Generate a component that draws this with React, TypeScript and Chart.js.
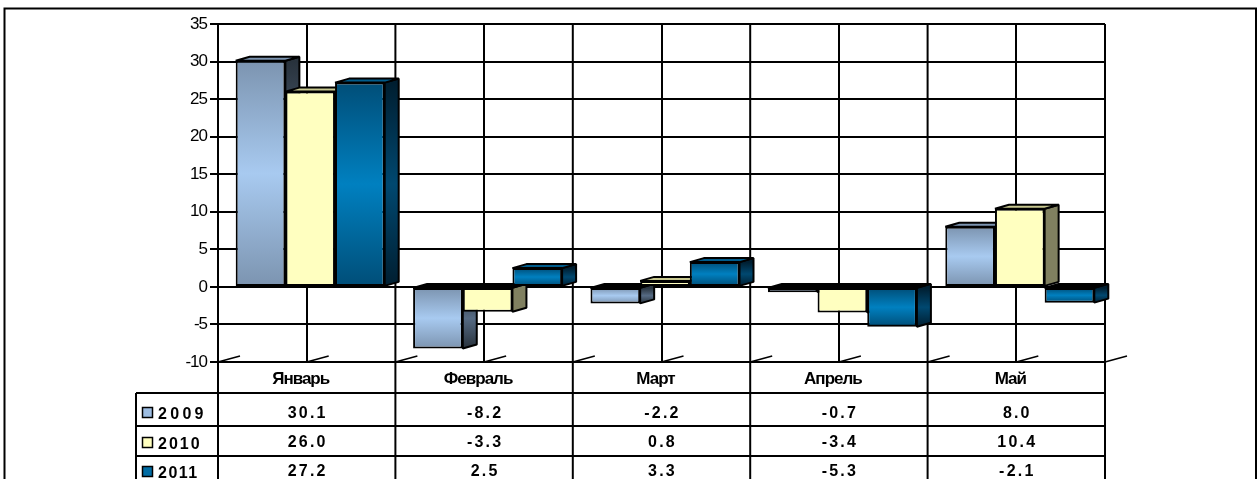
import React, { useEffect, useRef } from "react";
import { Chart, registerables } from "chart.js";

Chart.register(...registerables);

const categories = ["Январь", "Февраль", "Март", "Апрель", "Май"];
const seriesNames = ["2009", "2010", "2011"];
const values2009 = [30.1, -8.2, -2.2, -0.7, 8.0];
const values2010 = [26.0, -3.3, 0.8, -3.4, 10.4];
const values2011 = [27.2, 2.5, 3.3, -5.3, -2.1];
const allValues = [values2009, values2010, values2011];

const frontEdge = ["#7c94b0", "#ffffc0", "#004e78"];
const frontMid = ["#a8caf0", "#ffffc0", "#0080c0"];
const sideEdge = ["#28323c", "#808060", "#001e30"];
const sideMid = ["#566b84", "#808060", "#004870"];
const topFace = ["#7c94b0", "#c8c890", "#005c8c"];
const swatch = ["#9dbde2", "#ffffc0", "#006ca4"];
const legendSpacing = ["3.3px", "2px", "1.5px"];

const DX = 14;
const DY = 4;
const SHIFT = 3.5;
const FONT = '"Liberation Sans", Arial, sans-serif';

function grad(ctx: CanvasRenderingContext2D, y0: number, y1: number, edge: string, mid: string) {
  const g = ctx.createLinearGradient(0, y0, 0, y1);
  g.addColorStop(0, edge);
  g.addColorStop(0.5, mid);
  g.addColorStop(1, edge);
  return g;
}

const threeD = {
  id: "threeD",
  beforeDraw(chart: any) {
    chart.ctx.letterSpacing = "-1px";
  },
  afterDatasetsUpdate(chart: any) {
    chart.data.datasets.forEach((_: any, i: number) => {
      chart.getDatasetMeta(i).data.forEach((el: any) => {
        el.x += SHIFT;
      });
    });
  },
  beforeDatasetsDraw(chart: any) {
    const { ctx, scales, chartArea } = chart;
    const x = scales.x;
    ctx.save();
    ctx.strokeStyle = "#000";
    ctx.lineWidth = 2;
    const step = x.getPixelForValue(1) - x.getPixelForValue(0);
    // category boundaries
    for (let i = 0; i <= categories.length; i++) {
      const px = x.getPixelForValue(0) + (i - 0.5) * step;
      ctx.beginPath();
      ctx.moveTo(px, chartArea.top);
      ctx.lineTo(px, chartArea.bottom);
      ctx.stroke();
    }
    // floor ticks
    ctx.lineWidth = 1.5;
    for (let i = 0; i <= categories.length * 2; i++) {
      const px = x.getPixelForValue(0) + (i / 2 - 0.5) * step;
      ctx.beginPath();
      ctx.moveTo(px, chartArea.bottom);
      ctx.lineTo(px + 22, chartArea.bottom - 6);
      ctx.stroke();
    }
    // side and top faces
    ctx.lineWidth = 2;
    ctx.lineJoin = "bevel";
    chart.data.datasets.forEach((_: any, i: number) => {
      chart.getDatasetMeta(i).data.forEach((el: any, k: number) => {
        const v = allValues[i][k];
        const half = el.width / 2;
        const l = el.x - half;
        const r = el.x + half;
        const t = Math.min(el.y, el.base);
        const b = Math.max(el.y, el.base);
        ctx.beginPath();
        ctx.moveTo(r, t);
        ctx.lineTo(r + DX, t - DY);
        ctx.lineTo(r + DX, b - DY);
        ctx.lineTo(r, b);
        ctx.closePath();
        ctx.fillStyle = grad(ctx, t, b, sideEdge[i], sideMid[i]);
        ctx.fill();
        ctx.stroke();
        ctx.beginPath();
        ctx.moveTo(l, t);
        ctx.lineTo(l + DX, t - DY);
        ctx.lineTo(r + DX, t - DY);
        ctx.lineTo(r, t);
        ctx.closePath();
        ctx.fillStyle = v < 0 ? "#000" : topFace[i];
        ctx.fill();
        ctx.stroke();
        // front face gradient follows this bar's own extent
        el.options = Object.assign({}, el.options, {
          backgroundColor: grad(ctx, t, b, frontEdge[i], frontMid[i]),
        });
      });
    });
    ctx.restore();
  },
  afterDraw(chart: any) {
    const { ctx, scales, chartArea, height } = chart;
    const x = scales.x;
    const step = x.getPixelForValue(1) - x.getPixelForValue(0);
    const rows = [393, 426, 456];
    const textY = [413.5, 443, 472];
    const swatchY = [413, 443, 472];
    ctx.save();
    ctx.strokeStyle = "#000";
    ctx.lineWidth = 2;
    // outer frame
    ctx.beginPath();
    ctx.moveTo(4.5, height);
    ctx.lineTo(4.5, 8.5);
    ctx.lineTo(1256, 8.5);
    ctx.lineTo(1256, height);
    ctx.stroke();
    // table grid
    for (let i = 0; i <= categories.length; i++) {
      const px = x.getPixelForValue(0) + (i - 0.5) * step;
      ctx.beginPath();
      ctx.moveTo(px, chartArea.bottom);
      ctx.lineTo(px, height);
      ctx.stroke();
    }
    rows.forEach((y) => {
      ctx.beginPath();
      ctx.moveTo(136, y);
      ctx.lineTo(chartArea.right, y);
      ctx.stroke();
    });
    ctx.beginPath();
    ctx.moveTo(136, rows[0]);
    ctx.lineTo(136, height);
    ctx.stroke();
    // rows
    ctx.fillStyle = "#000";
    ctx.textBaseline = "middle";
    seriesNames.forEach((name, i) => {
      const cy = swatchY[i];
      ctx.lineWidth = 1.5;
      ctx.fillStyle = swatch[i];
      ctx.fillRect(142.5, cy - 5.5, 10, 10);
      ctx.strokeRect(142.5, cy - 5.5, 10, 10);
      ctx.fillStyle = "#000";
      ctx.textAlign = "left";
      ctx.font = `bold 16px ${FONT}`;
      ctx.letterSpacing = legendSpacing[i];
      ctx.fillText(name, 158, cy + 1.5);
      ctx.textAlign = "center";
      ctx.letterSpacing = "2.2px";
      allValues[i].forEach((v, k) => {
        ctx.fillText(v.toFixed(1), x.getPixelForValue(k) + 1, textY[i]);
      });
    });
    ctx.restore();
  },
};

export default function App() {
  const ref = useRef<HTMLCanvasElement>(null);
  useEffect(() => {
    document.body.style.margin = "0";
    const chart = new Chart(ref.current as HTMLCanvasElement, {
      type: "bar",
      data: {
        labels: categories,
        datasets: allValues.map((data, i) => ({
          label: seriesNames[i],
          data,
          borderColor: "#000",
          borderWidth: 2,
          borderSkipped: false,
          categoryPercentage: 0.84,
          barPercentage: 1,
          backgroundColor: frontMid[i],
        })),
      },
      options: {
        responsive: false,
        animation: false,
        devicePixelRatio: 1,
        layout: { padding: { left: 0, top: 24, right: 153, bottom: 0 } },
        plugins: { legend: { display: false }, tooltip: { enabled: false } },
        scales: {
          x: {
            offset: true,
            grid: { color: "#000", lineWidth: 2, drawTicks: false, offset: false },
            border: { display: false },
            ticks: { color: "#000", padding: 7, maxRotation: 0, autoSkip: false, labelOffset: -6, font: { family: FONT, size: 17, weight: "bold" } },
            afterFit(s: any) {
              s.height = 117;
              s.paddingLeft = 0;
              s.paddingRight = 0;
            },
          },
          y: {
            min: -10,
            max: 35,
            grid: { color: "#000", lineWidth: 2, tickLength: 8 },
            border: { color: "#000", width: 2 },
            ticks: { stepSize: 5, color: "#000", padding: 3, font: { family: FONT, size: 17 } },
            afterFit(s: any) {
              s.width = 218;
              s.paddingTop = 0;
              s.paddingBottom = 0;
            },
          },
        },
      },
      plugins: [threeD],
    } as any);
    return () => chart.destroy();
  }, []);
  return <canvas ref={ref} width={1258} height={479} style={{ display: "block" }} />;
}
